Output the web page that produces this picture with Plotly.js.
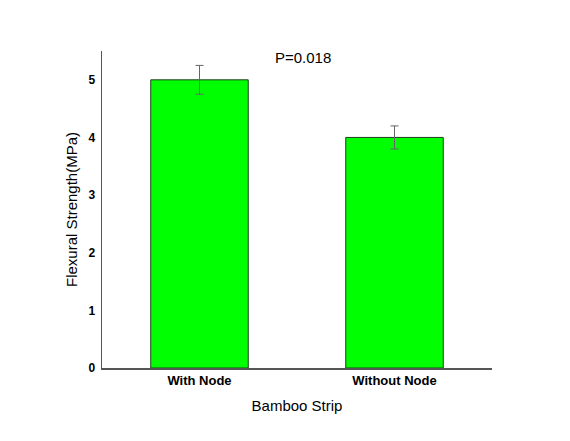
<!DOCTYPE html>
<html><head><meta charset="utf-8">
<script src="https://cdn.plot.ly/plotly-3.0.1.min.js"></script>
<style>html,body{margin:0;padding:0;background:#fff}</style>
</head><body><div id="chart" style="width:570px;height:441px"></div>
<script>
const categories = ["With Node", "Without Node"];
const strength = [5.0, 4.0];
const errors = [0.25, 0.2];
const pLabel = "P=0.018";

const trace = {
  type: "bar", x: categories, y: strength, width: 0.5,
  marker: {color: "#00ff00", line: {color: "#1f3f1f", width: 1}},
  error_y: {type: "data", array: errors, visible: true, color: "#666", thickness: 1, width: 4}
};
const layout = {
  width: 570, height: 441,
  margin: {l: 102, r: 78, t: 51, b: 73},
  paper_bgcolor: "#fff", plot_bgcolor: "#fff",
  font: {family: "Liberation Sans, Arial, sans-serif", color: "#000"},
  showlegend: false,
  xaxis: {range: [-0.5, 1.5], showline: true, linecolor: "#555", linewidth: 1.5, ticks: "",
    tickfont: {size: 13, family: "Liberation Sans, Arial", weight: "bold"},
    title: {text: "Bamboo Strip", font: {size: 15}, standoff: 13}, fixedrange: true},
  yaxis: {range: [0, 5.5], tickvals: [0,1,2,3,4,5], showline: true, linecolor: "#555", linewidth: 1.5,
    ticks: "", showgrid: false, zeroline: false, ticklabelstandoff: 3,
    tickfont: {size: 12, family: "Liberation Sans, Arial", weight: "bold"},
    title: {text: "Flexural Strength(MPa)", font: {size: 15}, standoff: 7}},
  annotations: [{text: pLabel, x: 0.515, xref: "paper", y: 5.38, yref: "y", showarrow: false,
    font: {size: 15}}]
};
Plotly.newPlot("chart", [trace], layout, {displayModeBar: false, staticPlot: true});
</script></body></html>
